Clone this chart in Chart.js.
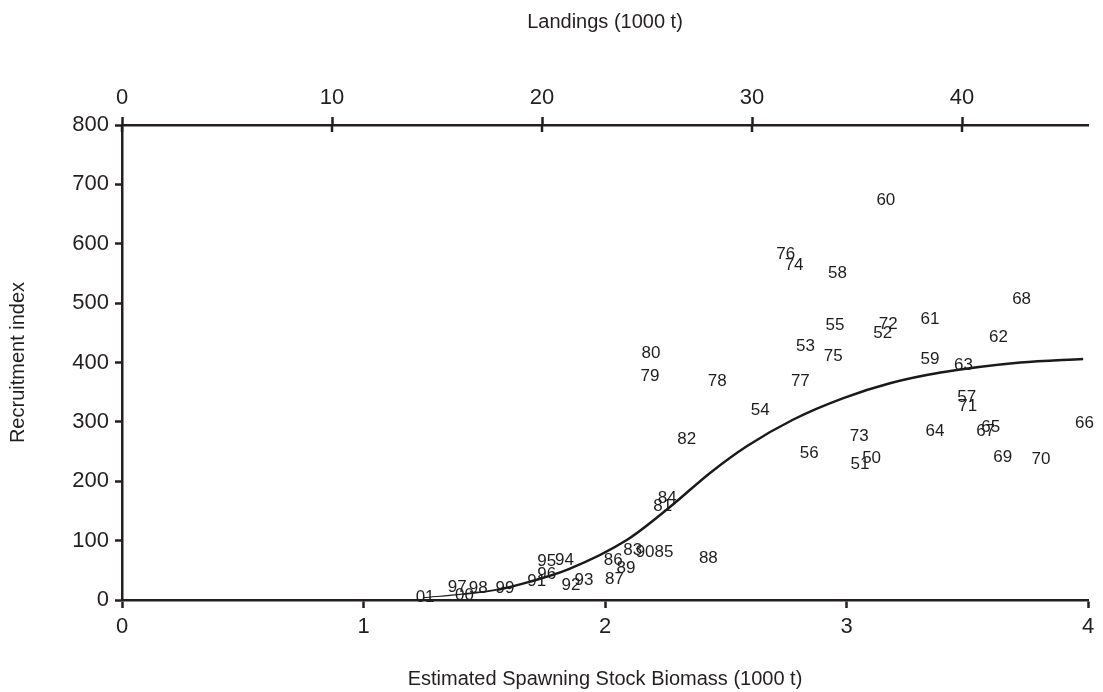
<!DOCTYPE html>
<html>
<head>
<meta charset="utf-8">
<script src="https://cdn.jsdelivr.net/npm/chart.js@4/dist/chart.umd.min.js"></script>
<style>
  html, body { margin: 0; padding: 0; background: #fff; }
  #wrap { width: 1103px; height: 692px; position: relative; }
</style>
</head>
<body>
<div id="wrap"><canvas id="chart"></canvas></div>
<script>
// year labels with spawning stock biomass (1000 t) and recruitment index
const years = ['60', '76', '74', '58', '55', '72', '52', '61', '53', '75', '59', '80', '79', '78', '77', '54', '82', '56', '73', '50', '51', '64',
  '68', '62', '63', '57', '71', '65', '67', '66', '69', '70',
  '84', '81', '83', '90', '85', '88', '86', '89', '87', '93', '92', '95', '94', '96', '91', '99', '98', '97', '00', '01'];
const ssb = [3.163, 2.748, 2.783, 2.963, 2.952, 3.173, 3.150, 3.346, 2.830, 2.945, 3.346, 2.190, 2.186, 2.465, 2.809, 2.643, 2.338, 2.846, 3.053, 3.104, 3.056, 3.366,
  3.725, 3.629, 3.484, 3.498, 3.502, 3.597, 3.576, 3.985, 3.647, 3.805,
  2.258, 2.239, 2.115, 2.166, 2.244, 2.428, 2.034, 2.087, 2.039, 1.913, 1.859, 1.759, 1.832, 1.759, 1.717, 1.586, 1.475, 1.388, 1.418, 1.255];
const recruits = [673, 582, 563, 551, 462, 464, 450, 473, 428, 411, 405, 415, 376, 368, 369, 319, 270, 247, 275, 239, 228, 284,
  507, 442, 396, 341, 326, 291, 284, 298, 241, 237,
  171, 157, 83, 80, 80, 70, 67, 53, 35, 33, 24, 66, 67, 43, 32, 20, 19, 21, 8, 5];

// fitted stock-recruitment curve
const curveSsb = [1.25, 1.41, 1.55, 1.69, 1.85, 2.09, 2.27, 2.435, 2.587, 2.78, 2.987, 3.18, 3.39, 3.72, 3.98];
const curveRec = [4, 10, 17, 31, 52, 101, 157, 214, 259, 304, 340, 365, 383, 400, 406];

const yTicks = [0, 100, 200, 300, 400, 500, 600, 700, 800];
const ssbTicks = [0, 1, 2, 3, 4];
const landingTicks = [0, 10, 20, 30, 40];
const LANDINGS_MAX = 46;

const INK = '#231f20';
const FONT = "'Liberation Sans', Arial, Helvetica, sans-serif";
const TICK_FONT = { family: FONT, size: 22 };
const TITLE_FONT = { family: FONT, size: 20 };

const points = ssb.map((x, i) => ({ x, y: recruits[i] }));
const curve = curveSsb.map((x, i) => ({ x, y: curveRec[i] }));

// year numbers are drawn as text at each point
const yearLabels = {
  id: 'yearLabels',
  afterDatasetsDraw(chart) {
    const ctx = chart.ctx;
    const meta = chart.getDatasetMeta(1);
    ctx.save();
    ctx.font = `17px ${FONT}`;
    ctx.fillStyle = '#1e1e1e';
    ctx.textAlign = 'center';
    ctx.textBaseline = 'middle';
    meta.data.forEach((pt, i) => ctx.fillText(years[i], pt.x, pt.y));
    ctx.restore();
  },
};

// top axis tick marks cross the axis line
const crossTicks = {
  id: 'crossTicks',
  afterDraw(chart) {
    const scale = chart.scales.x2;
    const ctx = chart.ctx;
    const y = chart.chartArea.top;
    ctx.save();
    ctx.strokeStyle = INK;
    ctx.lineWidth = 2.5;
    landingTicks.forEach((v) => {
      const x = scale.getPixelForValue(v);
      ctx.beginPath();
      ctx.moveTo(x, y);
      ctx.lineTo(x, y + 7);
      ctx.stroke();
    });
    ctx.restore();
  },
};

const fixedTicks = (values) => (scale) => {
  scale.ticks = values.map((value) => ({ value }));
};

// the tail of the curve near the origin is drawn thinner
const segWidth = (ctx) => {
  const x = ctx.p0.parsed.x;
  if (x < 1.4) return 1.2;
  if (x < 1.5) return 1.8;
  return 2.5;
};

new Chart(document.getElementById('chart'), {
  data: {
    datasets: [
      {
        type: 'line',
        data: curve,
        borderColor: '#1a1a1a',
        borderWidth: 2.5,
        segment: { borderWidth: segWidth },
        pointRadius: 0,
        cubicInterpolationMode: 'monotone',
        fill: false,
      },
      {
        type: 'scatter',
        data: points,
        pointRadius: 0,
        pointHoverRadius: 0,
      },
    ],
  },
  options: {
    responsive: true,
    maintainAspectRatio: false,
    animation: false,
    events: [],
    layout: { padding: { left: 0, right: 15, top: 0, bottom: 0 } },
    plugins: {
      legend: { display: false },
      tooltip: { enabled: false },
    },
    scales: {
      x: {
        type: 'linear',
        position: 'bottom',
        min: 0,
        max: 4,
        afterBuildTicks: fixedTicks(ssbTicks),
        afterFit: (s) => { s.height = 92; },
        grid: { drawOnChartArea: false, drawTicks: true, tickLength: 8, tickWidth: 2.5, tickColor: INK },
        border: { color: INK, width: 2.5 },
        ticks: { color: INK, font: TICK_FONT, padding: 6, maxRotation: 0 },
        title: {
          display: true,
          text: 'Estimated Spawning Stock Biomass (1000 t)',
          color: INK,
          font: TITLE_FONT,
          padding: { top: 0, bottom: 1 },
        },
      },
      x2: {
        type: 'linear',
        position: 'top',
        min: 0,
        max: LANDINGS_MAX,
        afterBuildTicks: fixedTicks(landingTicks),
        afterFit: (s) => { s.height = 125; },
        grid: { drawOnChartArea: false, drawTicks: true, tickLength: 8, tickWidth: 2.5, tickColor: INK },
        border: { color: INK, width: 2.5 },
        ticks: { color: INK, font: TICK_FONT, padding: 6, maxRotation: 0 },
        title: {
          display: true,
          text: 'Landings (1000 t)',
          color: INK,
          font: TITLE_FONT,
          padding: { top: 10, bottom: 0 },
        },
      },
      y: {
        type: 'linear',
        position: 'left',
        min: 0,
        max: 800,
        afterBuildTicks: fixedTicks(yTicks),
        afterFit: (s) => { s.width = 122; },
        grid: { drawOnChartArea: false, drawTicks: true, tickLength: 7, tickWidth: 2.5, tickColor: INK },
        border: { color: INK, width: 2.5 },
        ticks: { color: INK, font: TICK_FONT, padding: 6 },
        title: {
          display: true,
          text: 'Recruitment index',
          color: INK,
          font: TITLE_FONT,
          padding: { top: 6, bottom: 0 },
        },
      },
    },
  },
  plugins: [yearLabels, crossTicks],
});
</script>
</body>
</html>
